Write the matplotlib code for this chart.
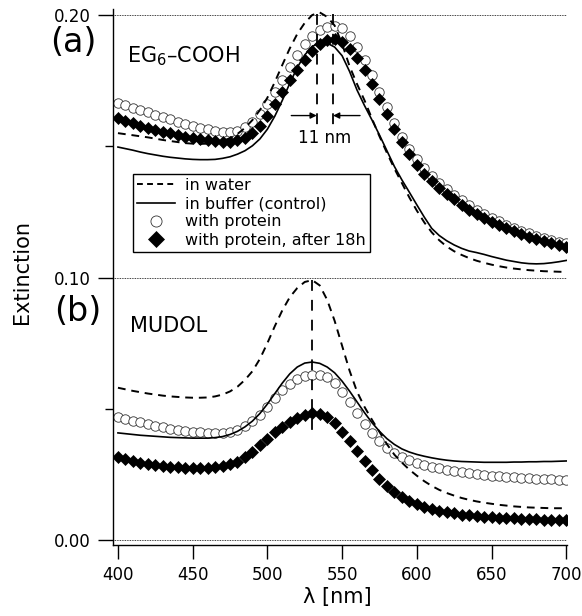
import numpy as np
import matplotlib.pyplot as plt
from matplotlib.lines import Line2D

# wavelength grid (nm), readings every 5 nm
wavelength = np.arange(400, 705, 5)

# (a) EG6-COOH
eg6_water = [
    .1550, .1546, .1542, .1538, .1534, .1529, .1524, .1520, .1516, .1512,
    .1510, .1509, .1510, .1513, .1520, .1531, .1547, .1570, .1600, .1638,
    .1685, .1745, .1810, .1873, .1928, .1970, .2000, .2010, .1993, .1960,
    .1890, .1805, .1737, .1675, .1605, .1538, .1475, .1415, .1360, .1305,
    .1255, .1210, .1172, .1142, .1118, .1100, .1086, .1074, .1064, .1056,
    .1049, .1043, .1038, .1034, .1031, .1028, .1026, .1024, .1023, .1022,
    .1021]
eg6_buffer = [
    .1497, .1491, .1485, .1478, .1472, .1467, .1462, .1458, .1455, .1452,
    .1450, .1449, .1449, .1450, .1454, .1460, .1470, .1483, .1502, .1528,
    .1565, .1615, .1675, .1740, .1800, .1848, .1880, .1895, .1893, .1878,
    .1845, .1785, .1714, .1655, .1600, .1543, .1483, .1423, .1372, .1325,
    .1277, .1230, .1187, .1160, .1140, .1124, .1111, .1101, .1095, .1088,
    .1080, .1073, .1066, .1061, .1056, .1053, .1052, .1053, .1056, .1060,
    .1065]
eg6_protein = [
    .1665, .1656, .1647, .1638, .1629, .1620, .1611, .1602, .1594, .1586,
    .1578, .1570, .1564, .1559, .1556, .1556, .1560, .1572, .1592, .1622,
    .1660, .1705, .1753, .1802, .1848, .1888, .1920, .1943, .1956, .1957,
    .1950, .1922, .1880, .1830, .1770, .1708, .1648, .1590, .1537, .1490,
    .1450, .1416, .1386, .1360, .1338, .1316, .1294, .1275, .1258, .1242,
    .1228, .1214, .1201, .1189, .1178, .1168, .1158, .1150, .1142, .1136,
    .1130]
eg6_protein_18h = [
    .1608, .1598, .1588, .1578, .1569, .1561, .1555, .1549, .1543, .1537,
    .1532, .1527, .1523, .1520, .1518, .1518, .1522, .1532, .1550, .1578,
    .1617, .1662, .1708, .1752, .1792, .1828, .1862, .1888, .1905, .1907,
    .1897, .1872, .1836, .1790, .1737, .1680, .1622, .1567, .1516, .1470,
    .1430, .1396, .1367, .1341, .1319, .1299, .1278, .1259, .1242, .1227,
    .1213, .1200, .1188, .1177, .1166, .1156, .1147, .1139, .1131, .1123,
    .1116]

# (b) MUDOL
mudol_water = [
    .0580, .0574, .0568, .0563, .0558, .0554, .0550, .0547, .0545, .0543,
    .0542, .0542, .0543, .0547, .0554, .0566, .0584, .0610, .0643, .0690,
    .0750, .0815, .0875, .0925, .0960, .0983, .0990, .0970, .0915, .0835,
    .0740, .0645, .0565, .0507, .0458, .0412, .0365, .0325, .0295, .0268,
    .0245, .0224, .0206, .0191, .0179, .0169, .0160, .0153, .0147, .0142,
    .0138, .0134, .0131, .0128, .0126, .0124, .0123, .0122, .0121, .0121,
    .0121]
mudol_buffer = [
    .0408, .0405, .0402, .0399, .0397, .0395, .0393, .0391, .0390, .0389,
    .0388, .0388, .0388, .0390, .0394, .0402, .0414, .0431, .0453, .0482,
    .0518, .0558, .0598, .0633, .0659, .0674, .0678, .0673, .0659, .0637,
    .0605, .0567, .0526, .0485, .0447, .0414, .0386, .0364, .0347, .0335,
    .0326, .0319, .0313, .0308, .0304, .0301, .0299, .0298, .0297, .0296,
    .0296, .0296, .0296, .0297, .0297, .0298, .0298, .0299, .0299, .0300,
    .0301]
mudol_protein = [
    .0469, .0462, .0455, .0448, .0441, .0435, .0429, .0424, .0419, .0415,
    .0412, .0410, .0408, .0407, .0408, .0412, .0420, .0434, .0453, .0478,
    .0508, .0540, .0570, .0595, .0613, .0625, .0629, .0627, .0620, .0598,
    .0565, .0524, .0483, .0443, .0407, .0377, .0352, .0332, .0316, .0303,
    .0293, .0285, .0279, .0273, .0268, .0263, .0259, .0255, .0251, .0248,
    .0245, .0243, .0241, .0239, .0237, .0235, .0233, .0232, .0231, .0230,
    .0229]
mudol_protein_18h = [
    .0315, .0308, .0301, .0295, .0290, .0286, .0282, .0279, .0277, .0275,
    .0274, .0274, .0275, .0277, .0281, .0288, .0299, .0315, .0336, .0360,
    .0385, .0410, .0432, .0451, .0466, .0477, .0482, .0480, .0468, .0445,
    .0413, .0376, .0338, .0300, .0265, .0233, .0205, .0182, .0163, .0148,
    .0136, .0126, .0118, .0111, .0105, .0101, .0097, .0094, .0091, .0089,
    .0087, .0085, .0083, .0082, .0081, .0080, .0079, .0078, .0077, .0077,
    .0076]

# peak markers
eg6_peaks = [533, 544]
mudol_peak = 530

legend_labels = ['in water', 'in buffer (control)', 'with protein',
                 'with protein, after 18h']

plt.rcParams['font.family'] = 'DejaVu Sans'

fig = plt.figure(figsize=(5.82, 6.16), dpi=100)
ax = fig.add_axes([0.1942, 0.1153, 0.78, 0.8701])

dash = (0, (4, 3))
circle_kw = dict(ls='none', marker='o', ms=6.8, mfc='white', mec='#333333', mew=0.6)
diamond_kw = dict(ls='none', marker='D', ms=6.2, mfc='black', mec='black', mew=0.5)

for prot, prot18, water, buffer in [
        (eg6_protein, eg6_protein_18h, eg6_water, eg6_buffer),
        (mudol_protein, mudol_protein_18h, mudol_water, mudol_buffer)]:
    ax.plot(wavelength, prot, **circle_kw)
    ax.plot(wavelength, prot18, **diamond_kw)
    ax.plot(wavelength, water, color='black', lw=1.4, ls=dash)
    ax.plot(wavelength, buffer, color='black', lw=1.2)

# dotted reference lines
for v in [0.0, 0.1, 0.2]:
    ax.axhline(v, color='black', lw=0.6, ls=(0, (1, 1)), zorder=0)

# peak positions
vdash = (0, (6, 5))
for xp in eg6_peaks:
    ax.plot([xp, xp], [0.2005, 0.158], color='black', lw=1.3, ls=vdash)
ax.plot([mudol_peak, mudol_peak], [0.099, 0.040], color='black', lw=1.3, ls=vdash)

arrow = dict(arrowstyle='-|>', color='black', lw=1.0, mutation_scale=9,
             shrinkA=0, shrinkB=0)
ax.annotate('', xy=(eg6_peaks[0], 0.1617), xytext=(516, 0.1617), arrowprops=arrow)
ax.annotate('', xy=(eg6_peaks[1], 0.1617), xytext=(562, 0.1617), arrowprops=arrow)
ax.text(538.5, 0.1532, '11 nm', fontsize=12, ha='center', va='center')

ax.text(406, 0.182, 'EG$_6$–COOH', fontsize=15, ha='left', va='baseline')
ax.text(408, 0.0792, 'MUDOL', fontsize=15, ha='left', va='baseline')

# legend
handles = [
    Line2D([], [], color='black', lw=1.4, ls=(0, (3, 2.2))),
    Line2D([], [], color='black', lw=1.2),
    Line2D([], [], **{**circle_kw, 'ms': 8}),
    Line2D([], [], **{**diamond_kw, 'ms': 8}),
]
leg = ax.legend(handles, legend_labels, loc='upper left',
                bbox_to_anchor=(0.044, 0.692), borderaxespad=0,
                fontsize=11.5, handlelength=2.4, handletextpad=0.6,
                labelspacing=0.2, borderpad=0.25, numpoints=1,
                fancybox=False, framealpha=1)
leg.get_frame().set_edgecolor('black')
leg.get_frame().set_linewidth(1.0)

ax.set_xlim(396.7, 700.5)
ax.set_ylim(-0.0019, 0.2023)
ax.set_xticks([400, 450, 500, 550, 600, 650, 700])
ax.set_yticks([0.0, 0.1, 0.2])
ax.set_yticklabels(['0.00', '0.10', '0.20'])
ax.set_yticks([0.05, 0.15], minor=True)

for side in ['top', 'right']:
    ax.spines[side].set_visible(False)
for side in ['left', 'bottom']:
    ax.spines[side].set_linewidth(1.0)

ax.tick_params(axis='both', which='major', direction='out', width=1.0,
               labelsize=12)
ax.tick_params(axis='x', which='major', length=10, pad=5)
ax.tick_params(axis='y', which='major', length=11, pad=5)
ax.tick_params(axis='y', which='minor', length=6, width=1.0)

fig.text(337 / 582, 1 - 597 / 616, 'λ [nm]', fontsize=15, ha='center', va='center')
fig.text(22 / 582, 1 - 272 / 616, 'Extinction', fontsize=15, rotation=90,
         ha='center', va='center')
fig.text(73 / 582, 1 - 42 / 616, '(a)', fontsize=24, ha='center', va='center')
fig.text(78 / 582, 1 - 312 / 616, '(b)', fontsize=24, ha='center', va='center')

fig.savefig('out.png', dpi=100)
